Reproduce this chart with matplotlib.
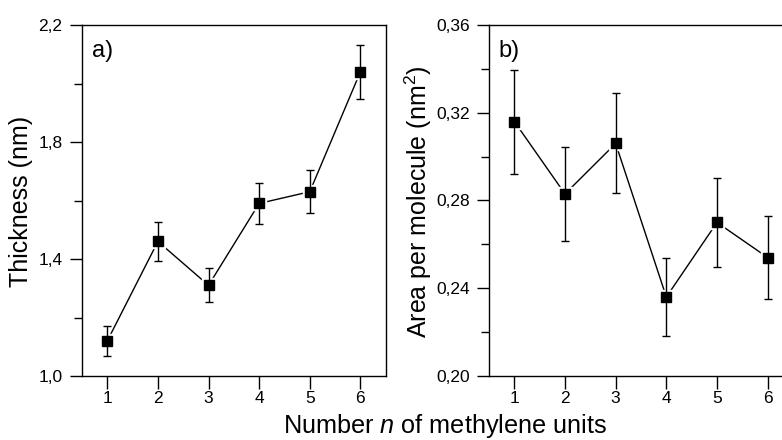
import matplotlib
matplotlib.use("Agg")
import matplotlib.pyplot as plt
from matplotlib.ticker import FixedLocator, FuncFormatter

plt.rcParams['font.family'] = ['Liberation Sans', 'DejaVu Sans']
plt.rcParams['mathtext.fontset'] = 'custom'
plt.rcParams['mathtext.it'] = 'Liberation Sans:italic'
plt.rcParams['mathtext.rm'] = 'Liberation Sans'

# Number of methylene units
n_units = [1, 2, 3, 4, 5, 6]

# Panel a: film thickness (nm)
thickness = [1.12, 1.46, 1.31, 1.59, 1.63, 2.04]
thickness_err = [0.050, 0.066, 0.058, 0.070, 0.073, 0.092]

# Panel b: area per molecule (nm^2)
area = [0.316, 0.283, 0.306, 0.236, 0.270, 0.254]
area_err = [0.0237, 0.0213, 0.0228, 0.0178, 0.0204, 0.0190]

W, H = 782, 440
fig = plt.figure(figsize=(W / 100, H / 100), dpi=100)


def px_axes(x0, x1, y_top, y_bot):
    return fig.add_axes([x0 / W, (H - y_bot) / H, (x1 - x0) / W, (y_bot - y_top) / H])


ax_a = px_axes(82, 385.7, 25, 376)
ax_b = px_axes(489, 793, 25, 376)


def comma(fmt):
    return FuncFormatter(lambda v, p: (fmt % v).replace('.', ','))


def draw_series(ax, x, y, err):
    ax.plot(x, y, '-', color='black', lw=1.0, zorder=1)
    ax.plot(x, y, 's', ms=10.5, mfc='white', mec='white', zorder=2)
    ax.errorbar(x, y, yerr=err, fmt='none', ecolor='black', elinewidth=1.0,
                capsize=2.6, capthick=1.0, zorder=3)
    ax.plot(x, y, 's', ms=7.3, mfc='black', mec='black', zorder=4)


def style(ax, ylim, majors, minors, fmt, tag):
    ax.set_xlim(0.5, 6.5)
    ax.set_ylim(*ylim)
    ax.xaxis.set_major_locator(FixedLocator(n_units))
    ax.yaxis.set_major_locator(FixedLocator(majors))
    ax.yaxis.set_minor_locator(FixedLocator(minors))
    ax.yaxis.set_major_formatter(comma(fmt))
    ax.tick_params(axis='both', which='major', direction='out', length=9,
                   width=1.0, labelsize=12.5, top=False, right=False)
    ax.tick_params(axis='y', which='minor', direction='out', length=6,
                   width=1.0, right=False)
    ax.tick_params(axis='y', which='major', pad=5)
    ax.tick_params(axis='x', which='major', pad=2)
    for s in ax.spines.values():
        s.set_linewidth(1.0)
    ax.text(0.032, 0.926, tag, transform=ax.transAxes, fontsize=17,
            ha='left', va='center')


draw_series(ax_a, n_units, thickness, thickness_err)
style(ax_a, (1.0, 2.2), [1.0, 1.4, 1.8, 2.2], [1.2, 1.6, 2.0], '%.1f', 'a)')

draw_series(ax_b, n_units, area, area_err)
style(ax_b, (0.20, 0.36), [0.20, 0.24, 0.28, 0.32, 0.36],
      [0.22, 0.26, 0.30, 0.34], '%.2f', 'b)')

fig.text(21 / W, 1 - 201 / H, 'Thickness (nm)', rotation=90,
         ha='center', va='center', fontsize=18)
fig.text(418 / W, 1 - 202 / H, 'Area per molecule (nm$^2$)', rotation=90,
         ha='center', va='center', fontsize=18)
fig.text(445 / W, 7 / H, 'Number $n$ of methylene units',
         ha='center', va='baseline', fontsize=18.2)

fig.savefig('out.png', dpi=100)
